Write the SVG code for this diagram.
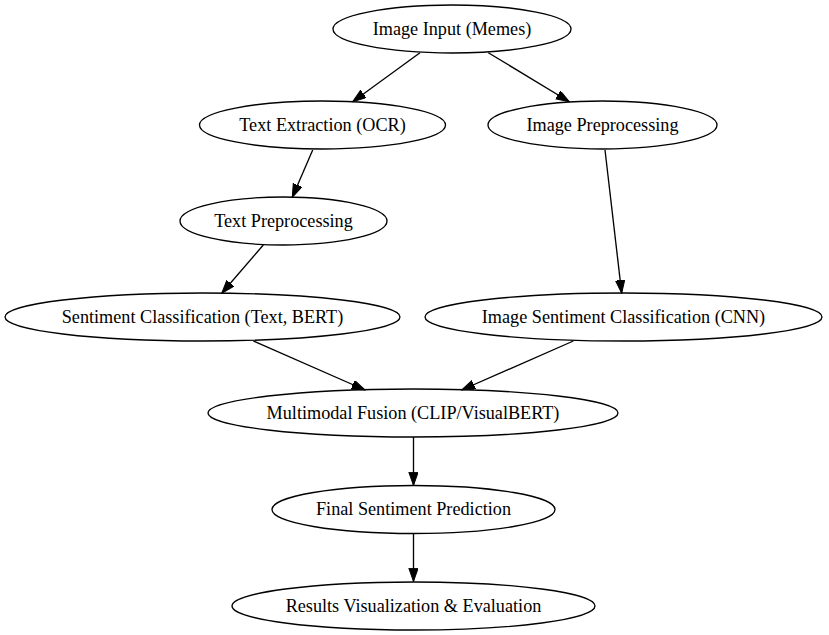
<svg xmlns="http://www.w3.org/2000/svg" width="829" height="635" viewBox="0 0 829 635">
<style>
.n ellipse{fill:none;stroke:#000;stroke-width:1.33}
.n text{font-family:"Liberation Serif","Times New Roman",serif;font-size:18.2px;text-anchor:middle;fill:#000}
.e line{stroke:#000;stroke-width:1.33;marker-end:url(#arr)}
</style>
<defs>
<marker id="arr" markerUnits="userSpaceOnUse" markerWidth="14" markerHeight="10" refX="13.3" refY="4.67" orient="auto">
<path d="M0,0 L13.3,4.67 L0,9.33 z" fill="#000" stroke="#000" stroke-width="1"/>
</marker>
</defs>
<rect width="829" height="635" fill="#fff"/>
<g id="edges" class="e">
<line x1="420" y1="52.7" x2="352.7" y2="101.7"/>
<line x1="488.3" y1="52.7" x2="569.3" y2="101.7"/>
<line x1="312.7" y1="150" x2="292.3" y2="197.3"/>
<line x1="605" y1="150" x2="621.7" y2="293.3"/>
<line x1="263.3" y1="245" x2="221.7" y2="293.3"/>
<line x1="253.3" y1="341" x2="365" y2="390"/>
<line x1="573.3" y1="341" x2="461.7" y2="390"/>
<line x1="413.5" y1="437" x2="413.5" y2="485.5"/>
<line x1="413.5" y1="533.5" x2="413.5" y2="581.5"/>
</g>
<g id="n1" class="n"><ellipse cx="452" cy="29" rx="119" ry="24"/><text x="452" y="34.6">Image Input (Memes)</text></g>
<g id="n2" class="n"><ellipse cx="322.5" cy="125" rx="123" ry="24"/><text x="322.5" y="130.6">Text Extraction (OCR)</text></g>
<g id="n3" class="n"><ellipse cx="602.5" cy="125" rx="114.5" ry="24"/><text x="602.5" y="130.6">Image Preprocessing</text></g>
<g id="n4" class="n"><ellipse cx="283.5" cy="221" rx="103.5" ry="24"/><text x="283.5" y="226.6">Text Preprocessing</text></g>
<g id="n5" class="n"><ellipse cx="202.5" cy="317" rx="197.5" ry="24"/><text x="202.5" y="322.6">Sentiment Classification (Text, BERT)</text></g>
<g id="n6" class="n"><ellipse cx="623.5" cy="317" rx="198.5" ry="24"/><text x="623.5" y="322.6">Image Sentiment Classification (CNN)</text></g>
<g id="n7" class="n"><ellipse cx="413" cy="413" rx="205" ry="24"/><text x="413" y="418.6">Multimodal Fusion (CLIP/VisualBERT)</text></g>
<g id="n8" class="n"><ellipse cx="413.5" cy="509.5" rx="141.5" ry="24"/><text x="413.5" y="515.1">Final Sentiment Prediction</text></g>
<g id="n9" class="n"><ellipse cx="413.5" cy="606" rx="181.5" ry="24"/><text x="413.5" y="611.6">Results Visualization &amp; Evaluation</text></g>
</svg>
